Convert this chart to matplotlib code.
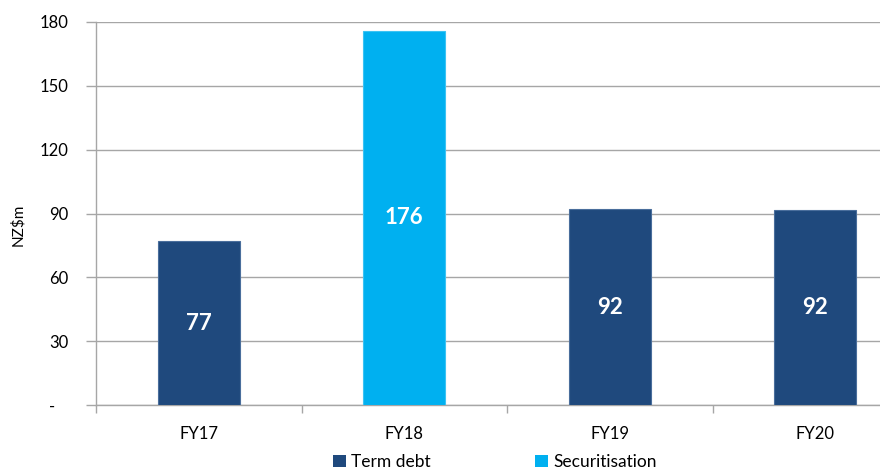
import numpy as np
import matplotlib
matplotlib.use("Agg")
import matplotlib.pyplot as plt
from matplotlib.patches import Patch

# funding cost by year, NZ$m
years = ["FY17", "FY18", "FY19", "FY20"]
values = [77.0, 176.0, 92.0, 91.6]
kinds = ["Term debt", "Securitisation", "Term debt", "Term debt"]

colours = {"Term debt": "#1F497D", "Securitisation": "#00B0F0"}
edges = {"Term debt": "#4A6E9C", "Securitisation": "#3CC3F3"}
grid_col = "#A6A6A6"

plt.rcParams["font.family"] = ["Lato", "DejaVu Sans"]

fig = plt.figure(figsize=(8.8, 4.71), dpi=100)
# axes run past the right edge so the last category gets clipped like the source
ax = fig.add_axes([96 / 880, 1 - 405 / 471, 822 / 880, 383 / 471])

x = np.arange(len(years))
bars = ax.bar(x, values, width=0.4,
              color=[colours[k] for k in kinds],
              edgecolor=[edges[k] for k in kinds], linewidth=0.8, zorder=3)

for b, v in zip(bars, values):
    ax.text(b.get_x() + b.get_width() / 2, v / 2, f"{v:.0f}",
            ha="center", va="center", color="white",
            fontsize=16, fontweight="bold", zorder=4)

ax.set_xlim(-0.5, 3.5)
ax.set_ylim(0, 180)
yt = np.arange(0, 181, 30)
ax.set_yticks(yt)
ax.set_yticklabels(["-   "] + [str(v) for v in yt[1:]])
ax.yaxis.grid(True, color=grid_col, linewidth=1.0, zorder=0)
ax.tick_params(axis="y", length=7, width=1.0, color=grid_col, pad=13,
               labelsize=12, labelcolor="#000000")

ax.set_xticks(x)
ax.set_xticklabels(years)
ax.set_xticks(np.arange(-0.5, 4.0, 1.0), minor=True)
ax.tick_params(axis="x", which="major", length=0, pad=15, labelsize=12)
ax.tick_params(axis="x", which="minor", length=6, width=1.0, color=grid_col)

for side in ["top", "right"]:
    ax.spines[side].set_visible(False)
for side in ["left", "bottom"]:
    ax.spines[side].set_color(grid_col)
    ax.spines[side].set_linewidth(1.0)

fig.text(18 / 880, 1 - 225 / 471, "NZ$m", rotation=90, ha="center",
         va="center", fontsize=11)

handles = [Patch(facecolor=colours[k], edgecolor="none") for k in ["Term debt", "Securitisation"]]
fig.legend(handles, ["Term debt", "Securitisation"], loc="center",
           bbox_to_anchor=(495 / 880, 1 - 462 / 471), ncol=2, frameon=False,
           fontsize=12.5, handlelength=0.75, handleheight=0.75,
           handletextpad=0.3, columnspacing=6.0)

fig.savefig("out.png", dpi=100)
